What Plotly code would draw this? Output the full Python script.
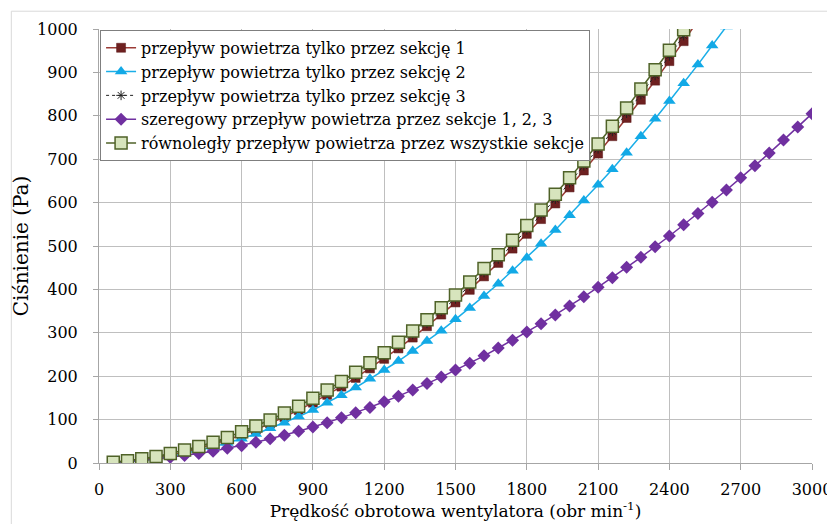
import plotly.graph_objects as go

rpm_a = [60, 120, 180, 240, 300, 360, 420, 480, 540, 600, 660, 720, 780, 840, 900, 960,
         1020, 1080, 1140, 1200, 1260, 1320, 1380, 1440, 1500, 1560, 1620, 1680, 1740,
         1800, 1860, 1920, 1980, 2040, 2100, 2160, 2220, 2280, 2340, 2400, 2460]
rpm_s1 = rpm_a + [2520]
rpm_s2 = rpm_a + [2520, 2580, 2640]
rpm_s4 = rpm_a + [2520, 2580, 2640, 2700, 2760, 2820, 2880, 2940, 3000]

sekcja1 = [1, 4, 8, 12, 18, 25, 34, 43, 53, 65, 77, 91, 106, 122, 139, 157, 176, 196, 218,
           240, 264, 289, 315, 342, 370, 399, 430, 461, 494, 528, 562, 598, 635, 674, 713,
           753, 795, 837, 881, 926, 972, 1019]
sekcja2 = [1, 3, 6, 10, 15, 22, 29, 37, 46, 56, 67, 80, 93, 107, 122, 139, 156, 174, 194,
           214, 235, 258, 281, 305, 331, 357, 385, 413, 443, 473, 505, 537, 571, 605, 641,
           677, 715, 753, 793, 834, 875, 918, 962, 1006]
sekcja3 = [2, 5, 9, 14, 20, 28, 36, 46, 56, 68, 81, 95, 110, 126, 144, 162, 182, 202, 224,
           247, 271, 296, 322, 350, 378, 408, 439, 470, 503, 537, 572, 608, 646, 685, 724,
           764, 806, 849, 893, 938, 985]
szeregowy = [1, 3, 6, 9, 13, 17, 22, 27, 34, 40, 48, 56, 64, 73, 83, 93, 104, 116, 128, 141,
             154, 168, 183, 198, 214, 230, 247, 265, 283, 302, 321, 341, 362, 383, 405, 427,
             451, 474, 498, 523, 549, 575, 601, 629, 657, 685, 714, 744, 774, 805]
rownolegly = [2, 5, 10, 15, 22, 30, 38, 48, 59, 72, 85, 99, 115, 131, 149, 168, 188, 209,
              231, 254, 278, 304, 330, 358, 387, 417, 448, 480, 513, 547, 583, 619, 657, 696,
              735, 776, 818, 862, 906, 951, 998]

names = [
    "przepływ powietrza tylko przez sekcję 1",
    "przepływ powietrza tylko przez sekcję 2",
    "przepływ powietrza tylko przez sekcję 3",
    "szeregowy przepływ powietrza przez sekcje 1, 2, 3",
    "równoległy przepływ powietrza przez wszystkie sekcje",
]
x_ticks = [0, 300, 600, 900, 1200, 1500, 1800, 2100, 2400, 2700, 3000]
y_ticks = [0, 100, 200, 300, 400, 500, 600, 700, 800, 900, 1000]

SERIF = "DejaVu Serif"
FS = 16

fig = go.Figure()
fig.add_trace(go.Scatter(x=rpm_s1, y=sekcja1, name=names[0], mode="lines+markers",
                         line=dict(color="#9B3B36", width=1.5),
                         marker=dict(symbol="square", size=9, color="#6E2020",
                                     line=dict(color="#5A1818", width=0.5))))
fig.add_trace(go.Scatter(x=rpm_s2, y=sekcja2, name=names[1], mode="lines+markers",
                         line=dict(color="#1AAEE8", width=1.5),
                         marker=dict(symbol="triangle-up", size=11, color="#12A9E6")))
fig.add_trace(go.Scatter(x=rpm_a, y=sekcja3, name=names[2], mode="lines+markers",
                         line=dict(color="#222222", width=1, dash="dot"),
                         marker=dict(symbol="asterisk-open", size=8,
                                     line=dict(color="#111111", width=1))))
fig.add_trace(go.Scatter(x=rpm_s4, y=szeregowy, name=names[3], mode="lines+markers",
                         line=dict(color="#7030A0", width=1.5),
                         marker=dict(symbol="diamond", size=10, color="#7030A0")))
fig.add_trace(go.Scatter(x=rpm_a, y=rownolegly, name=names[4], mode="lines+markers",
                         line=dict(color="#4F6228", width=1.5),
                         marker=dict(symbol="square", size=12, color="#D7E4BD",
                                     line=dict(color="#4F6228", width=1.5))))

# page body has an 8px default margin; figure is sized so the plot area lands
# at the reference position within the 835x524 window
fig.update_layout(
    width=827, height=516,
    margin=dict(l=89, r=23, t=20, b=61),
    paper_bgcolor="white", plot_bgcolor="white",
    font=dict(family=SERIF, size=FS, color="#000000"),
    showlegend=True,
    legend=dict(x=0.0015, y=0.998, xanchor="left", yanchor="top",
                bgcolor="white", bordercolor="#7F7F7F", borderwidth=1,
                font=dict(family=SERIF, size=16), itemwidth=30,
                tracegroupgap=0),
    xaxis=dict(range=[0, 3000], tickvals=x_ticks, ticktext=[str(v) for v in x_ticks],
               showgrid=True, gridcolor="#BFBFBF", gridwidth=1,
               showline=True, linecolor="#A6A6A6", linewidth=1,
               ticks="outside", ticklen=6, tickcolor="#A6A6A6",
               ticklabeloverflow="allow", ticklabelstandoff=6,
               automargin="height",
               tickfont=dict(family=SERIF, size=FS), zeroline=False,
               title=dict(text="Prędkość obrotowa wentylatora (obr min<sup>-1</sup>)",
                          font=dict(family=SERIF, size=17), standoff=1)),
    yaxis=dict(range=[0, 1000], tickvals=y_ticks, ticktext=[str(v) for v in y_ticks],
               showgrid=True, gridcolor="#BFBFBF", gridwidth=1,
               showline=True, linecolor="#A6A6A6", linewidth=1,
               ticks="outside", ticklen=5, tickcolor="#A6A6A6",
               ticklabelstandoff=12,
               tickfont=dict(family=SERIF, size=FS), zeroline=False,
               title=dict(text="Ciśnienie (Pa)", font=dict(family=SERIF, size=20),
                          standoff=3)),
    shapes=[dict(type="rect", xref="paper", yref="paper",
                 x0=-0.123, x1=1.029, y0=-0.2, y1=1.041,
                 line=dict(color="#D9D9D9", width=1), fillcolor="rgba(0,0,0,0)",
                 layer="below")],
)

fig.write_html("out.html")
